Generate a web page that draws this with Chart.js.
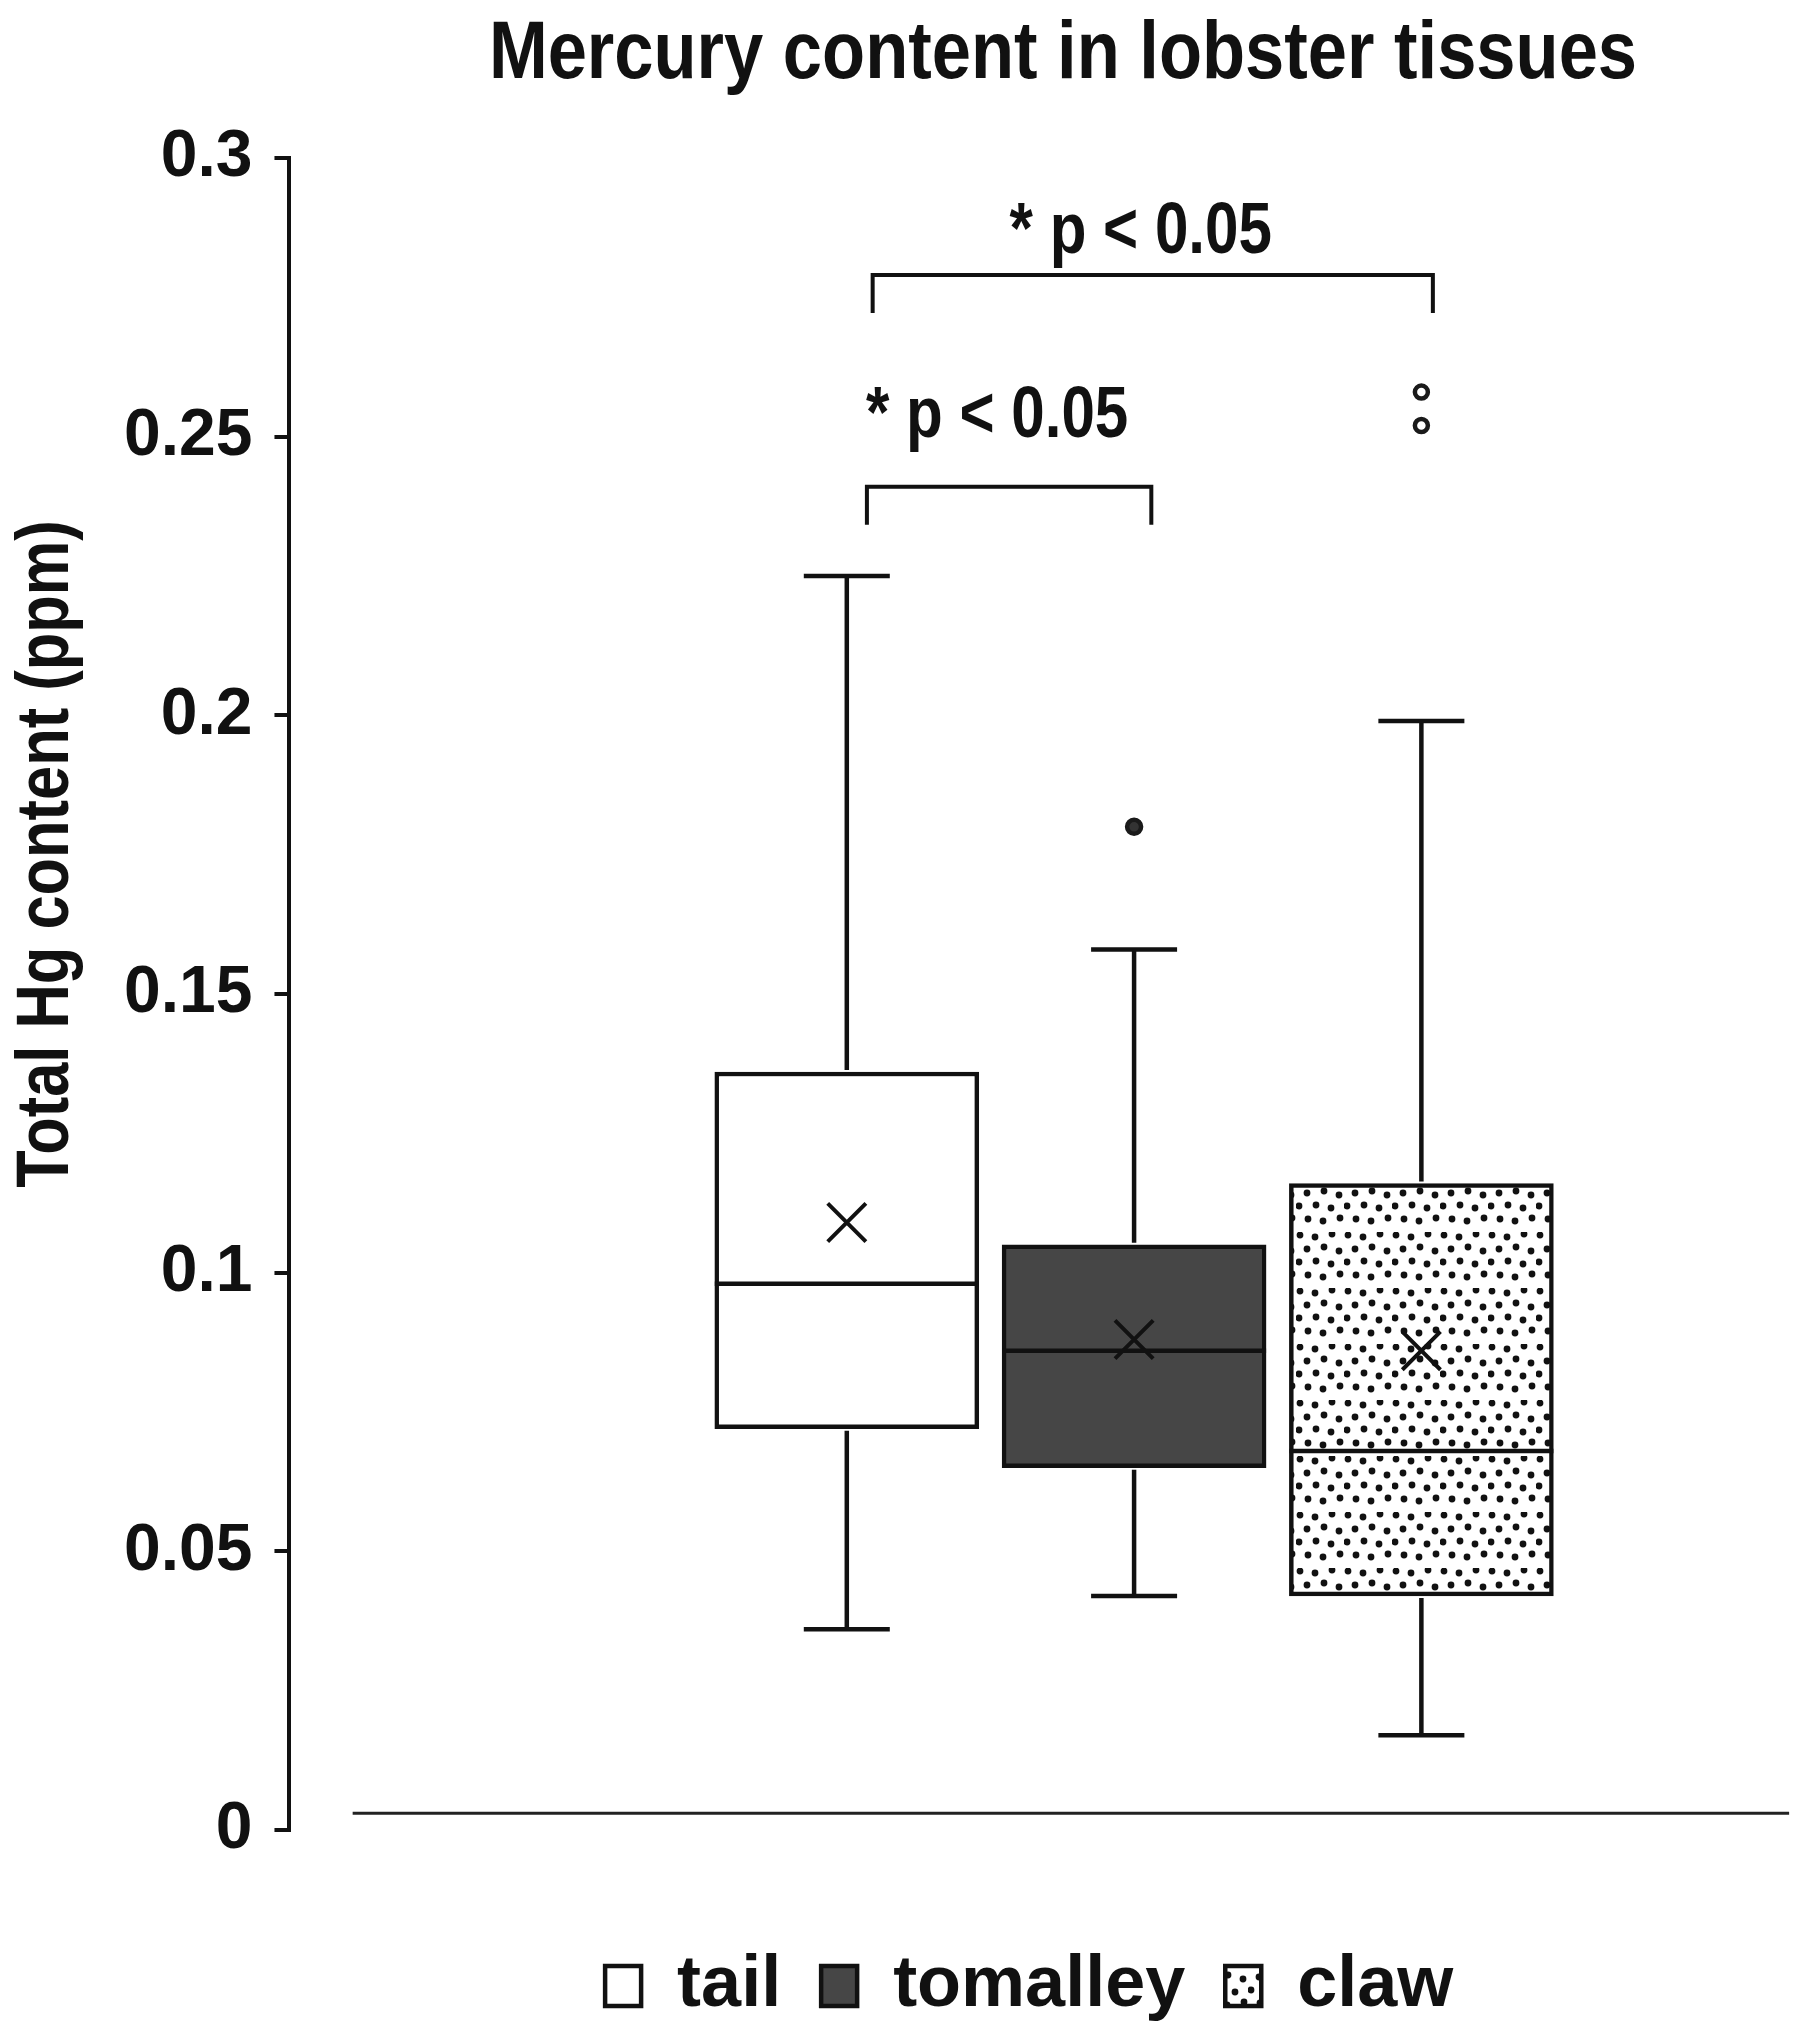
<!DOCTYPE html>
<html>
<head>
<meta charset="utf-8">
<title>Mercury content in lobster tissues</title>
<script src="https://cdn.jsdelivr.net/npm/chart.js@4.4.1/dist/chart.umd.min.js"></script>
<style>
  html, body { margin: 0; padding: 0; background: #fff; }
  #wrap { width: 1800px; height: 2041px; }
</style>
</head>
<body>
<div id="wrap"><canvas id="hg-chart" width="1800" height="2041"></canvas></div>
<script>
// ---- data ----
const tissues = ['tail', 'tomalley', 'claw'];
const tissuePos = [1, 2, 3];
const whiskerLow = [0.036, 0.042, 0.017];
const quartile1 = [0.072, 0.065, 0.042];
const medians = [0.098, 0.086, 0.068];
const quartile3 = [0.136, 0.105, 0.116];
const whiskerHigh = [0.225, 0.158, 0.199];
const means = [0.109, 0.088, 0.086];
const outlierPos = [2, 3, 3];
const outlierValues = [0.180, 0.252, 0.258];
const yTickValues = [0, 0.05, 0.1, 0.15, 0.2, 0.25, 0.3];
const yTickLabels = ['0', '0.05', '0.1', '0.15', '0.2', '0.25', '0.3'];

// significance brackets (x in group units, y in ppm)
const sigStart = [1.07, 1.09];
const sigEnd = [2.06, 3.04];
const sigLevel = [0.241, 0.279];
const sigTextLevel = [0.250, 0.283];
const sigLabels = ['* p < 0.05', '* p < 0.05'];

const chartTitle = 'Mercury content in lobster tissues';
const yTitle = 'Total Hg content (ppm)';

// No narrow face is installed, so hand-drawn text gets squeezed a bit
const FONT = "'Liberation Sans', Arial, sans-serif";
const INK = '#111';
const BOX_W = 264;

const canvas = document.getElementById('hg-chart');
const mainCtx = canvas.getContext('2d');

// stippled fill for the claw box
function makeDotPattern() {
    const tile = document.createElement('canvas');
    tile.width = 48;
    tile.height = 56;
    const g = tile.getContext('2d');
    g.fillStyle = '#fff';
    g.fillRect(0, 0, 48, 56);
    g.fillStyle = INK;
    const dots = [
        [4, 3], [19, 5], [36, 2],
        [11, 17], [28, 15], [43, 19],
        [3, 30], [20, 29], [35, 32],
        [12, 43], [27, 45], [44, 42],
    ];
    dots.forEach(([px, py]) => {
        g.beginPath();
        g.arc(px, py, 3.4, 0, Math.PI * 2);
        g.fill();
    });
    return mainCtx.createPattern(tile, 'repeat');
}

const boxFills = ['#ffffff', '#464646', makeDotPattern()];

function squeezedText(ctx, text, x, y, size, squeeze) {
    ctx.save();
    ctx.font = `bold ${size}px ${FONT}`;
    ctx.translate(x, y);
    ctx.scale(squeeze, 1);
    ctx.fillText(text, 0, 0);
    ctx.restore();
}

// whiskers, medians, brackets, baseline and titles
const boxExtras = {
    id: 'boxExtras',
    afterDatasetsDraw(chart) {
        const { ctx, scales: { x, y } } = chart;
        const line = (x1, y1, x2, y2) => {
            ctx.beginPath();
            ctx.moveTo(x1, y1);
            ctx.lineTo(x2, y2);
            ctx.stroke();
        };
        ctx.save();
        ctx.lineCap = 'butt';

        // horizontal base line (sits a hair above zero in the original)
        const by = y.getPixelForValue(0.003);
        ctx.strokeStyle = '#222';
        ctx.lineWidth = 3;
        line(x.getPixelForValue(-0.72), by, x.getPixelForValue(4.28), by);

        ctx.strokeStyle = INK;
        ctx.lineWidth = 4.5;
        tissuePos.forEach((p, i) => {
            const cx = x.getPixelForValue(p);
            const yHi = y.getPixelForValue(whiskerHigh[i]);
            const yQ3 = y.getPixelForValue(quartile3[i]);
            const yQ1 = y.getPixelForValue(quartile1[i]);
            const yLo = y.getPixelForValue(whiskerLow[i]);
            const yMed = y.getPixelForValue(medians[i]);
            line(cx, yQ3 - 2, cx, yHi);
            line(cx - 43, yHi, cx + 43, yHi);
            line(cx, yQ1 + 2, cx, yLo);
            line(cx - 43, yLo, cx + 43, yLo);
            line(cx - BOX_W / 2, yMed, cx + BOX_W / 2, yMed);
        });

        // brackets + labels
        ctx.fillStyle = INK;
        ctx.textAlign = 'center';
        ctx.textBaseline = 'alphabetic';
        ctx.lineWidth = 4;
        sigLabels.forEach((label, i) => {
            const x1 = x.getPixelForValue(sigStart[i]);
            const x2 = x.getPixelForValue(sigEnd[i]);
            const yb = y.getPixelForValue(sigLevel[i]);
            const legLen = 38;
            ctx.beginPath();
            ctx.moveTo(x1, yb + legLen);
            ctx.lineTo(x1, yb);
            ctx.lineTo(x2, yb);
            ctx.lineTo(x2, yb + legLen);
            ctx.stroke();
            squeezedText(ctx, label, (x1 + x2) / 2 - 12, y.getPixelForValue(sigTextLevel[i]), 72, 0.835);
        });

        // chart title
        squeezedText(ctx, chartTitle, 1063, 78, 82, 0.86);

        // rotated y-axis title
        ctx.save();
        ctx.translate(48, 854);
        ctx.rotate(-Math.PI / 2);
        ctx.textBaseline = 'middle';
        squeezedText(ctx, yTitle, 0, 0, 74, 0.83);
        ctx.restore();

        ctx.restore();
    }
};

new Chart(mainCtx, {
    type: 'bar',
    data: {
        datasets: [
            ...tissues.map((name, i) => ({
                label: name,
                data: [{ x: tissuePos[i], y: [quartile1[i], quartile3[i]] }],
                backgroundColor: boxFills[i],
                borderColor: INK,
                borderWidth: 4.5,
                borderSkipped: false,
                barThickness: BOX_W,
                grouped: false,
                order: 2,
            })),
            {
                type: 'scatter',
                label: 'mean',
                data: means.map((m, i) => ({ x: tissuePos[i], y: m })),
                pointStyle: 'crossRot',
                pointRadius: 27,
                borderColor: INK,
                borderWidth: 4,
                order: 0,
            },
            {
                type: 'scatter',
                label: 'outliers',
                data: outlierValues.map((v, i) => ({ x: outlierPos[i], y: v })),
                pointStyle: 'circle',
                pointRadius: [7, 6.5, 6.5],
                borderWidth: 4.5,
                borderColor: '#1a1a1a',
                backgroundColor: ['#333', '#fff', '#fff'],
                order: 0,
            }
        ]
    },
    options: {
        responsive: false,
        animation: false,
        layout: {
            padding: { left: 102, right: 0, top: 158, bottom: 9 }
        },
        plugins: {
            title: { display: false },
            legend: {
                position: 'bottom',
                fullSize: false,
                labels: {
                    color: INK,
                    font: { family: FONT, size: 72, weight: 'bold' },
                    boxWidth: 36,
                    boxHeight: 40,
                    padding: 40,
                    filter: (item) => tissues.includes(item.text),
                }
            },
            tooltip: { enabled: false }
        },
        scales: {
            x: {
                type: 'linear',
                min: -0.94,
                max: 4.21,
                offset: false,
                grid: { display: false },
                border: { display: false },
                ticks: { display: false },
                afterFit(scale) { scale.height = 80; }
            },
            y: {
                min: 0,
                max: 0.3,
                afterBuildTicks(scale) {
                    scale.ticks = yTickValues.map(v => ({ value: v }));
                },
                ticks: {
                    callback: (val, idx) => yTickLabels[idx],
                    color: INK,
                    font: { family: FONT, size: 66, weight: 'bold' },
                    padding: 22,
                },
                grid: {
                    drawOnChartArea: false,
                    drawTicks: true,
                    tickLength: 15,
                    color: INK,
                    lineWidth: 4,
                },
                border: { display: true, color: INK, width: 4 }
            }
        }
    },
    plugins: [boxExtras]
});
</script>
</body>
</html>
